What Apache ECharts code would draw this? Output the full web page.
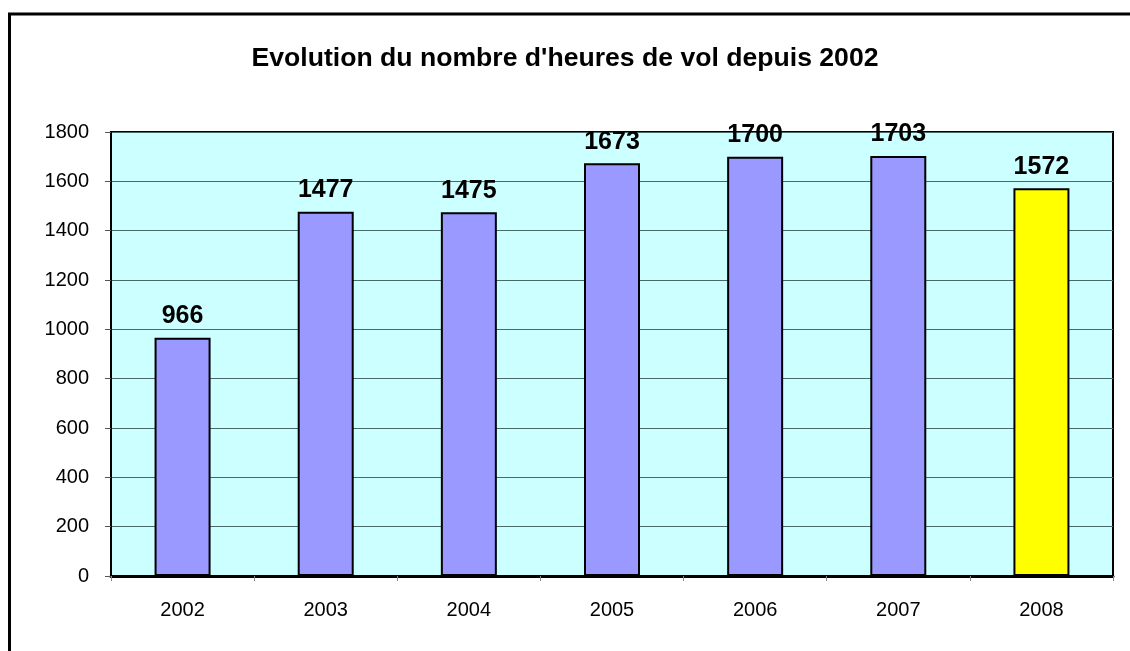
<!DOCTYPE html>
<html>
<head>
<meta charset="utf-8">
<script src="https://cdn.jsdelivr.net/npm/echarts@6/dist/echarts.min.js"></script>
<style>html,body{margin:0;padding:0;background:#fff;}#c{width:1130px;height:651px;}</style>
</head>
<body>
<div id="c"></div>
<script>
const categories = ['2002', '2003', '2004', '2005', '2006', '2007', '2008'];
const hours = [966, 1477, 1475, 1673, 1700, 1703, 1572];
const barColors = ['#9999FF', '#9999FF', '#9999FF', '#9999FF', '#9999FF', '#9999FF', '#FFFF00'];
const titleText = "Evolution du nombre d'heures de vol depuis 2002";

const chart = echarts.init(document.getElementById('c'));
const font = 'Liberation Sans, Arial, sans-serif';
chart.setOption({
  animation: false,
  backgroundColor: '#fff',
  graphic: [{
    type: 'rect', z: -1,
    shape: { x: 9.5, y: 14, width: 1200, height: 700 },
    style: { fill: 'none', stroke: '#000', lineWidth: 3 }
  }],
  title: {
    text: titleText, left: 'center', top: 40,
    textStyle: { fontFamily: font, fontSize: 26.6, fontWeight: 'bold', color: '#000' }
  },
  grid: {
    left: 111, right: 17, top: 132, bottom: 75,
    show: true, backgroundColor: '#CCFFFF', borderColor: '#000', borderWidth: 2
  },
  xAxis: {
    type: 'category', data: categories,
    axisLine: { show: true, lineStyle: { color: '#000', width: 3 } },
    axisTick: { show: true, length: 5, lineStyle: { color: '#888' } },
    axisLabel: { margin: 24, fontFamily: font, fontSize: 20, color: '#000' }
  },
  yAxis: {
    type: 'value', min: 0, max: 1800, interval: 200,
    axisLine: { show: true, lineStyle: { color: '#000', width: 2 } },
    axisTick: { show: true, length: 6, lineStyle: { color: '#555' } },
    axisLabel: { margin: 22, fontFamily: font, fontSize: 20, color: '#000', formatter: v => String(v) },
    splitLine: { show: true, lineStyle: { color: '#4a6a6a', width: 1 } }
  },
  series: [{
    type: 'bar', barWidth: 56,
    data: hours.map((v, i) => ({ value: v, itemStyle: { color: barColors[i] } })),
    itemStyle: { borderColor: '#000', borderWidth: 2 },
    label: {
      show: true, position: 'top', distance: 9,
      fontFamily: font, fontSize: 25, fontWeight: 'bold', color: '#000'
    }
  }]
});
</script>
</body>
</html>
